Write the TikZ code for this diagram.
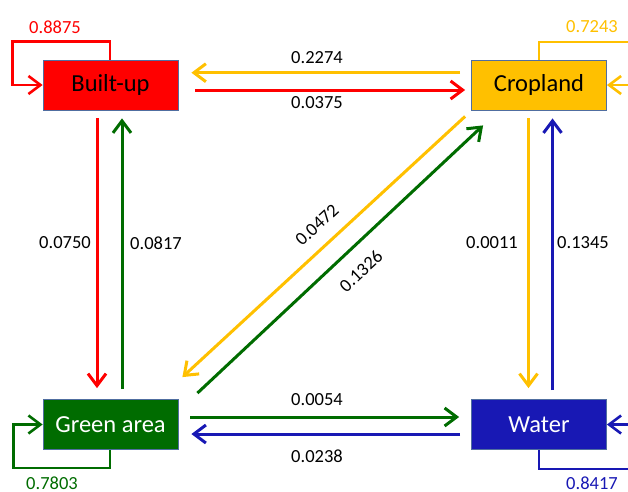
\documentclass[tikz,border=0pt]{standalone}
\usepackage{fontspec}
\setmainfont{Carlito}
\usetikzlibrary{arrows.meta}
\definecolor{cred}{RGB}{255,0,0}
\definecolor{cyel}{RGB}{255,192,0}
\definecolor{cgrn}{RGB}{0,108,0}
\definecolor{cblu}{RGB}{24,24,180}
\definecolor{cbord}{RGB}{80,110,160}
\tikzset{
  box/.style={draw=cbord, line width=0.8pt, minimum width=135pt, minimum height=50pt, inner sep=0pt, font=\fontsize{24.5}{24.5}\selectfont},
  flow/.style={line width=3pt, -{Straight Barb[length=12pt,width=18pt]}},
  selfflow/.style={line width=2.6pt, -{Straight Barb[length=12pt,width=18pt]}},
  plain/.style={line width=2.6pt},
  lab/.style={font=\fontsize{18.5}{18.5}\selectfont, text=black, inner sep=0pt},
}
\begin{document}
\begin{tikzpicture}[x=1pt,y=-1pt]
\useasboundingbox (0,0) rectangle (628,491);
\node[box, fill=cred, text=black] (bu) at (110.5,85) {Built-up};
\node[box, fill=cyel, text=black] (cr) at (539,85) {Cropland};
\node[box, fill=cgrn, text=white] (ga) at (110.5,424.5) {Green area};
\node[box, fill=cblu, text=white] (wa) at (539,424.5) {Water};

% top horizontals
\draw[flow, cyel] ([shift={(-11,-12.3)}]cr.west) -- ([shift={(13,-12.3)}]bu.east);
\draw[flow, cred] ([shift={(17,5)}]bu.east) -- ([shift={(-6,5)}]cr.west);
% bottom horizontals
\draw[flow, cgrn] ([shift={(12,-7.5)}]ga.east) -- ([shift={(-12,-7.5)}]wa.west);
\draw[flow, cblu] ([shift={(-11,9.5)}]wa.west) -- ([shift={(13,9.5)}]ga.east);
% left verticals
\draw[flow, cred] ([shift={(-13.5,8)}]bu.south) -- ([shift={(-13.5,-11)}]ga.north);
\draw[flow, cgrn] ([shift={(11.5,-10)}]ga.north) -- ([shift={(11.5,8)}]bu.south);
% right verticals
\draw[flow, cyel] ([shift={(-10.5,8)}]cr.south) -- ([shift={(-10.5,-11)}]wa.north);
\draw[flow, cblu] ([shift={(13.5,-9)}]wa.north) -- ([shift={(13.5,8)}]cr.south);
% diagonals
\draw[flow, cyel] ([shift={(-6,6)}]cr.south west) -- ([shift={(4,-22)}]ga.north east);
\draw[flow, cgrn] ([shift={(19,-6)}]ga.north east) -- ([shift={(12,15)}]cr.south west);

% self loops
\draw[selfflow, cred] ([xshift=-0.5]bu.north) -- ++(0,-18) -| ([xshift=-30]bu.west) -- (bu.west);
\coordinate (crout) at (628,42);
\coordinate (crin) at (628,85);
\draw[plain, cyel] (cr.north) |- (crout);
\draw[selfflow, cyel] (crin) -- (cr.east);
\draw[selfflow, cgrn] ([xshift=-0.5]ga.south) -- ++(0,18) -| ([xshift=-29]ga.west) -- (ga.west);
\coordinate (waout) at (628,469);
\coordinate (wain) at (628,424.5);
\draw[plain, cblu] (wa.south) |- (waout);
\draw[selfflow, cblu] (wain) -- (wa.east);

% labels
\node[lab, text=cred] (l1) at (55,27) {0.8875};
\node[lab, text=cyel] (l2) at (592,27) {0.7243};
\node[lab, text=cgrn] (l3) at (52,483) {0.7803};
\node[lab, text=cblu] (l4) at (592,483) {0.8417};
\node[lab] (l5) at (317,58) {0.2274};
\node[lab] (l6) at (317,103) {0.0375};
\node[lab] (l7) at (317,400) {0.0054};
\node[lab] (l8) at (317,456) {0.0238};
\node[lab] (l9) at (65,243) {0.0750};
\node[lab] (l10) at (156,243) {0.0817};
\node[lab] (l11) at (492,243) {0.0011};
\node[lab] (l12) at (583,243) {0.1345};
\node[lab, rotate=43] (l13) at (317,225) {0.0472};
\node[lab, rotate=43] (l14) at (361,271) {0.1326};
\end{tikzpicture}
\end{document}
